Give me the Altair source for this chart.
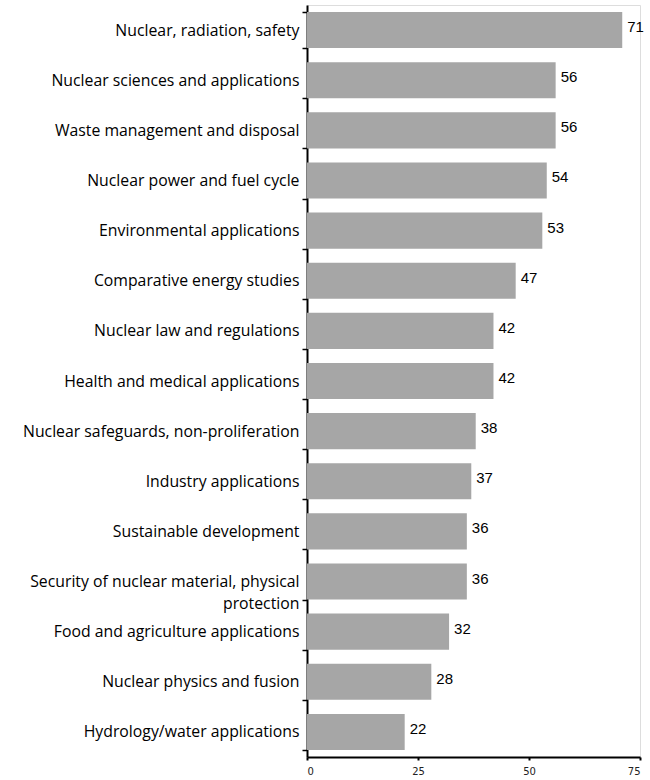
import altair as alt
import pandas as pd

categories = [
    "Nuclear, radiation, safety",
    "Nuclear sciences and applications",
    "Waste management and disposal",
    "Nuclear power and fuel cycle",
    "Environmental applications",
    "Comparative energy studies",
    "Nuclear law and regulations",
    "Health and medical applications",
    "Nuclear safeguards, non-proliferation",
    "Industry applications",
    "Sustainable development",
    "Security of nuclear material, physical protection",
    "Food and agriculture applications",
    "Nuclear physics and fusion",
    "Hydrology/water applications",
]
values = [71, 56, 56, 54, 53, 47, 42, 42, 38, 37, 36, 36, 32, 28, 22]
x_ticks = [0, 25, 50, 75]

df = pd.DataFrame({"cat": categories, "val": values})

label_expr = (
    "datum.label == 'Security of nuclear material, physical protection' "
    "? ['Security of nuclear material, physical', 'protection'] : datum.label"
)

y = alt.Y(
    "cat:N",
    sort=categories,
    scale=alt.Scale(paddingInner=0.28, paddingOuter=0.14),
    axis=alt.Axis(
        title=None,
        labelExpr=label_expr,
        labelFont="Open Sans",
        labelFontSize=15.8,
        labelColor="#000000",
        labelPadding=3,
        labelLimit=400,
        labelLineHeight=22,
        tickBand="extent",
        tickSize=5,
        tickColor="#000000",
        tickWidth=1.5,
        domainColor="#000000",
        domainWidth=2,
    ),
)

x = alt.X(
    "val:Q",
    scale=alt.Scale(domain=[0, 75], nice=False),
    axis=alt.Axis(
        title=None,
        values=x_ticks,
        labelFont="DejaVu Sans",
        labelFontSize=10,
        labelColor="#222222",
        labelPadding=6,
        tickSize=3,
        tickColor="#000000",
        tickWidth=2,
        domainColor="#000000",
        domainWidth=2,
        grid=False,
    ),
)

bars = alt.Chart(df).mark_bar(color="#a6a6a6").encode(x=x, y=y)

text = alt.Chart(df).mark_text(
    align="left", baseline="middle", dx=5, dy=-3,
    font="Liberation Sans", fontSize=15, color="#000000",
).encode(x="val:Q", y=alt.Y("cat:N", sort=categories), text="val:Q")

chart = (
    alt.layer(bars, text)
    .properties(
        width=333,
        height=752,
        padding={"left": 307, "top": 5, "right": 10, "bottom": 23},
        autosize=alt.AutoSizeParams(type="none"),
    )
    .configure_view(stroke="#a0a0a0", strokeWidth=2)
    .configure(background="white")
)

chart.save("out.html", embed_options={"renderer": "svg", "actions": False})
